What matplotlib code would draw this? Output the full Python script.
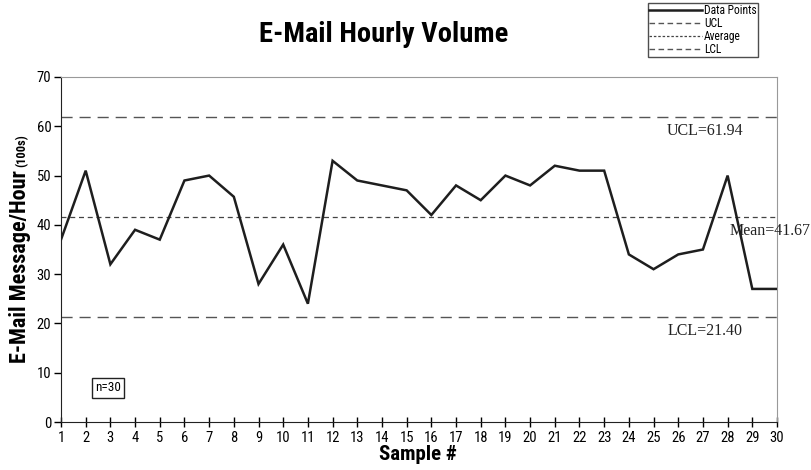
import matplotlib
matplotlib.use("Agg")
import matplotlib.pyplot as plt
from matplotlib import font_manager
from matplotlib.lines import Line2D

# Hourly e-mail volume samples (hundreds of messages per hour)
samples = list(range(1, 31))
volume = [37, 51, 32, 39, 37, 49, 50, 45.7, 28, 36,
          24, 53, 49, 48, 47, 42, 48, 45, 50, 48,
          52, 51, 51, 34, 31, 34, 35, 50, 27, 27]

ucl = 61.94
mean = 41.67
lcl = 21.40

y_ticks = [0, 10, 20, 30, 40, 50, 60, 70]
legend_labels = ["Data Points", "UCL", "Average", "LCL"]


def condensed_font():
    """Pick a narrow sans face from what is installed."""
    fonts = font_manager.fontManager.ttflist
    names = {f.name for f in fonts}
    for name in ("Liberation Sans Narrow", "Roboto Condensed", "Open Sans Condensed",
                 "Noto Sans Condensed", "DejaVu Sans Condensed"):
        if name in names:
            return {"family": name}
    for pref in ("Roboto", "Noto Sans", "Open Sans", "DejaVu Sans"):
        for f in fonts:
            if f.name == pref and f.stretch in ("condensed", "semi-condensed", "extra-condensed"):
                return {"family": f.name, "stretch": f.stretch}
    return {"family": "DejaVu Sans", "stretch": "condensed"}


NARROW = condensed_font()
SERIF = "Liberation Serif"


def narrow_props(size, weight="normal"):
    return font_manager.FontProperties(size=size, weight=weight, **NARROW)


fig = plt.figure(figsize=(8.11, 4.70), dpi=100)
W, H = 811, 470
left, right, top, bottom = 61, 777, 77, 422
ax = fig.add_axes([left / W, 1 - bottom / H, (right - left) / W, (bottom - top) / H])

ax.plot(samples, volume, color="#1e1e1e", lw=1.8, solid_joinstyle="miter", zorder=3)
ax.axhline(ucl, color="#555555", lw=1.0, ls=(0, (8, 5)))
ax.axhline(lcl, color="#555555", lw=1.0, ls=(0, (8, 5)))
ax.axhline(mean, color="#444444", lw=0.9, ls=(0, (4, 3)))

ax.set_xlim(1, 30)
ax.set_ylim(0, 70)
ax.set_xticks(samples)
ax.set_yticks(y_ticks)
for lab in ax.get_xticklabels() + ax.get_yticklabels():
    lab.set_fontproperties(narrow_props(10.5))
ax.tick_params(axis="x", direction="inout", length=7, width=1, pad=3)
ax.tick_params(axis="y", direction="out", length=5, width=1, pad=2)

for s in ("top", "right"):
    ax.spines[s].set_color("#999999")
for s in ("left", "bottom"):
    ax.spines[s].set_color("#222222")

# Control-limit labels
ax.text(27.1, ucl - 1.3, "UCL=61.94", family=SERIF, fontsize=11.5, va="top", ha="center", color="#222222")
ax.text(27.1, lcl - 1.3, "LCL=21.40", family=SERIF, fontsize=11.5, va="top", ha="center", color="#222222")
ax.text(31.35, mean - 1.3, "Mean=41.67", family=SERIF, fontsize=11.5, va="top", ha="right",
        color="#222222", clip_on=False)

ax.text(2.9, 6.9, "n=30", fontproperties=narrow_props(9.5), va="center", ha="center",
        bbox=dict(boxstyle="square,pad=0.25", fc="white", ec="#222222", lw=1))

fig.text(384 / W, 1 - 35 / H, "E-Mail Hourly Volume", fontproperties=narrow_props(20.5, "bold"),
         ha="center", va="center")
fig.text(418 / W, 1 - 455 / H, "Sample #", fontproperties=narrow_props(15, "bold"),
         ha="center", va="center")
fig.text(20 / W, 1 - 267 / H, "E-Mail Message/Hour", fontproperties=narrow_props(16, "bold"),
         ha="center", va="center", rotation=90)
fig.text(22 / W, 1 - 151 / H, "(100s)", fontproperties=narrow_props(9, "bold"),
         ha="center", va="center", rotation=90)

handles = [
    Line2D([], [], color="#1e1e1e", lw=1.8),
    Line2D([], [], color="#555555", lw=1.0, ls=(0, (4, 2.5))),
    Line2D([], [], color="#444444", lw=0.9, ls=(0, (2, 1.5))),
    Line2D([], [], color="#555555", lw=1.0, ls=(0, (4, 2.5))),
]
leg = fig.legend(handles, legend_labels,
                 loc="upper left", bbox_to_anchor=(648 / W, 1 - 3 / H),
                 prop=narrow_props(8.3), frameon=True, fancybox=False,
                 borderpad=0.1, labelspacing=0.0, handlelength=4.6, handletextpad=0.15,
                 borderaxespad=0)
leg.get_frame().set_edgecolor("#222222")
leg.get_frame().set_linewidth(1)

fig.savefig("out.png", dpi=100)
